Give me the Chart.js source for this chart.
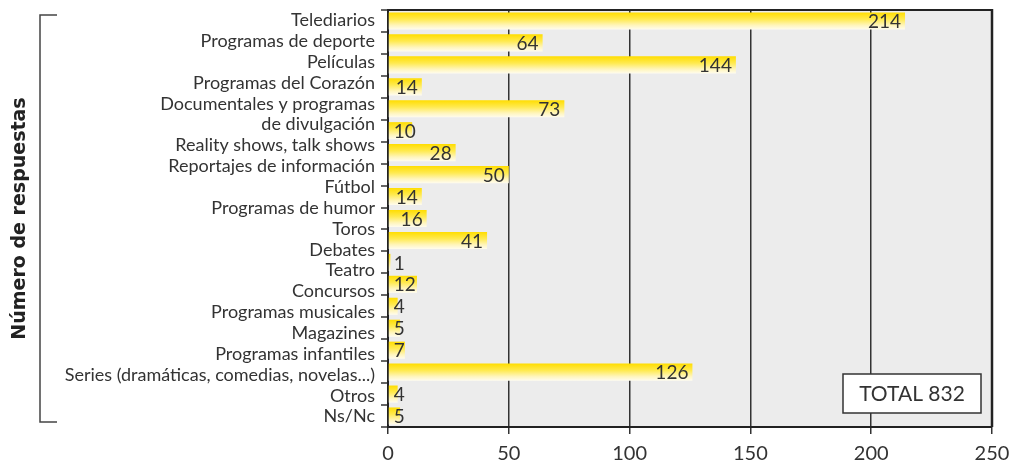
<!DOCTYPE html>
<html>
<head>
<meta charset="utf-8">
<script src="https://cdn.jsdelivr.net/npm/chart.js@4.4.1/dist/chart.umd.min.js"></script>
<style>
html,body{margin:0;padding:0;background:#fff;}
#wrap{width:1014px;height:464px;}
</style>
</head>
<body>
<div id="wrap"><canvas id="c" width="1014" height="464"></canvas></div>
<script>
// ---- data ----
const categoryLabels = [
  'Telediarios',
  'Programas de deporte',
  'Películas',
  'Programas del Corazón',
  'Documentales y programas',
  'de divulgación',
  'Reality shows, talk shows',
  'Reportajes de información',
  'Fútbol',
  'Programas de humor',
  'Toros',
  'Debates',
  'Teatro',
  'Concursos',
  'Programas musicales',
  'Magazines',
  'Programas infantiles',
  'Series (dramáticas, comedias, novelas...)',
  'Otros',
  'Ns/Nc'
];
const barValues = [214, 64, 144, 14, 73, 10, 28, 50, 14, 16, 41, 1, 12, 4, 5, 7, 126, 4, 5];
const xTickValues = [0, 50, 100, 150, 200, 250];
const axisTitle = 'Número de respuestas';
const totalWord = 'TOTAL';

// ---- styling ----
const FONT = 'Lato';
const TEXT = '#333333';
const FRAME = '#222222';
const BAR_FRACTION = 0.78;

const barKeys = barValues.map((_, i) => 'b' + i);
const totalValue = barValues.reduce((s, v) => s + v, 0);

function barFill(c) {
  if (c.type !== 'data') return '#ffe000';
  const chart = c.chart;
  const a = chart.chartArea;
  const s = chart.scales.yb;
  if (!a || !s) return '#ffe000';
  const yc = s.getPixelForValue(c.dataIndex);
  const h = (a.bottom - a.top) / barValues.length * BAR_FRACTION;
  const g = chart.ctx.createLinearGradient(0, yc - h / 2, 0, yc + h / 2);
  g.addColorStop(0, '#ffdd00');
  g.addColorStop(0.4, '#ffea50');
  g.addColorStop(0.75, '#fff5bb');
  g.addColorStop(1, '#fffcee');
  return g;
}

const decor = {
  id: 'decor',
  beforeDraw(chart) {
    const { ctx, chartArea: a } = chart;
    ctx.save();
    ctx.fillStyle = '#ffffff';
    ctx.fillRect(0, 0, chart.width, chart.height);
    ctx.fillStyle = '#ececec';
    ctx.fillRect(a.left, a.top, a.right - a.left, a.bottom - a.top);
    // bracket beside the axis title
    ctx.strokeStyle = '#444444';
    ctx.lineWidth = 1.5;
    ctx.beginPath();
    ctx.moveTo(57, a.top + 5);
    ctx.lineTo(40, a.top + 5);
    ctx.lineTo(40, a.bottom - 5);
    ctx.lineTo(57, a.bottom - 5);
    ctx.stroke();
    ctx.restore();
  },
  afterDatasetsDraw(chart) {
    const { ctx } = chart;
    const meta = chart.getDatasetMeta(0);
    ctx.save();
    ctx.font = '19px ' + FONT;
    ctx.fillStyle = TEXT;
    ctx.textAlign = 'right';
    ctx.textBaseline = 'middle';
    meta.data.forEach((el, i) => {
      const t = String(barValues[i]);
      const w = ctx.measureText(t).width;
      const x = Math.max(el.x - 4, el.base + 5 + w);
      ctx.fillText(t, x, el.y + 1);
    });
    ctx.restore();
  },
  afterDraw(chart) {
    const { ctx, chartArea: a } = chart;
    ctx.save();
    // right frame line
    ctx.strokeStyle = FRAME;
    ctx.lineWidth = 2.5;
    ctx.beginPath();
    ctx.moveTo(a.right, a.top - 1);
    ctx.lineTo(a.right, a.bottom);
    ctx.stroke();
    // total box
    const w = 138, h = 39;
    const x = a.right - 11 - w, y = a.bottom - 14 - h;
    ctx.fillStyle = '#ffffff';
    ctx.fillRect(x, y, w, h);
    ctx.strokeStyle = '#333333';
    ctx.lineWidth = 1.5;
    ctx.strokeRect(x, y, w, h);
    ctx.font = '21px ' + FONT;
    ctx.fillStyle = TEXT;
    ctx.textAlign = 'center';
    ctx.textBaseline = 'middle';
    ctx.fillText(totalWord + ' ' + totalValue, x + w / 2, y + h / 2 + 1);
    ctx.restore();
  }
};

new Chart(document.getElementById('c'), {
  type: 'bar',
  data: {
    labels: barKeys,
    datasets: [{
      data: barValues,
      xAxisID: 'x',
      yAxisID: 'yb',
      backgroundColor: barFill,
      borderWidth: 0,
      categoryPercentage: 1,
      barPercentage: BAR_FRACTION
    }]
  },
  options: {
    indexAxis: 'y',
    responsive: false,
    animation: false,
    devicePixelRatio: 1,
    layout: { padding: { left: 0, right: 22, top: 10, bottom: 0 } },
    plugins: { legend: { display: false }, tooltip: { enabled: false } },
    scales: {
      x: {
        type: 'linear',
        position: 'bottom',
        min: 0,
        max: 250,
        afterBuildTicks: s => { s.ticks = xTickValues.map(v => ({ value: v })); },
        ticks: { font: { family: FONT, size: 20, lineHeight: 1 }, color: TEXT, padding: 10, maxRotation: 0 },
        grid: {
          color: '#333333',
          lineWidth: 1.5,
          tickLength: 7,
          tickColor: '#333333',
          tickWidth: 1.5
        },
        border: { color: FRAME, width: 2 },
        afterFit: s => { s.height = 37; s.paddingLeft = 0; s.paddingRight = 0; }
      },
      yb: {
        type: 'category',
        position: 'left',
        weight: 0,
        offset: true,
        ticks: { display: false },
        grid: {
          offset: true,
          color: c => (c.index === 0 ? FRAME : 'rgba(0,0,0,0)'),
          lineWidth: 2,
          tickLength: 7,
          tickColor: '#333333',
          tickWidth: 1.5
        },
        border: { color: FRAME, width: 2 },
        afterFit: s => { s.paddingTop = 0; s.paddingBottom = 0; }
      },
      yl: {
        type: 'category',
        labels: categoryLabels,
        position: 'left',
        weight: 1,
        offset: true,
        grid: { display: false, drawTicks: false },
        border: { display: false },
        ticks: {
          autoSkip: false,
          font: { family: FONT, size: 18 },
          color: TEXT,
          padding: 6
        },
        title: {
          display: true,
          text: axisTitle,
          font: { family: 'DejaVu Sans', size: 19, weight: 'bold' },
          color: '#222222',
          padding: { top: 9, bottom: 0 }
        },
        afterFit: s => { s.width = 381; s.paddingTop = 0; s.paddingBottom = 0; }
      }
    }
  },
  plugins: [decor]
});
</script>
</body>
</html>
